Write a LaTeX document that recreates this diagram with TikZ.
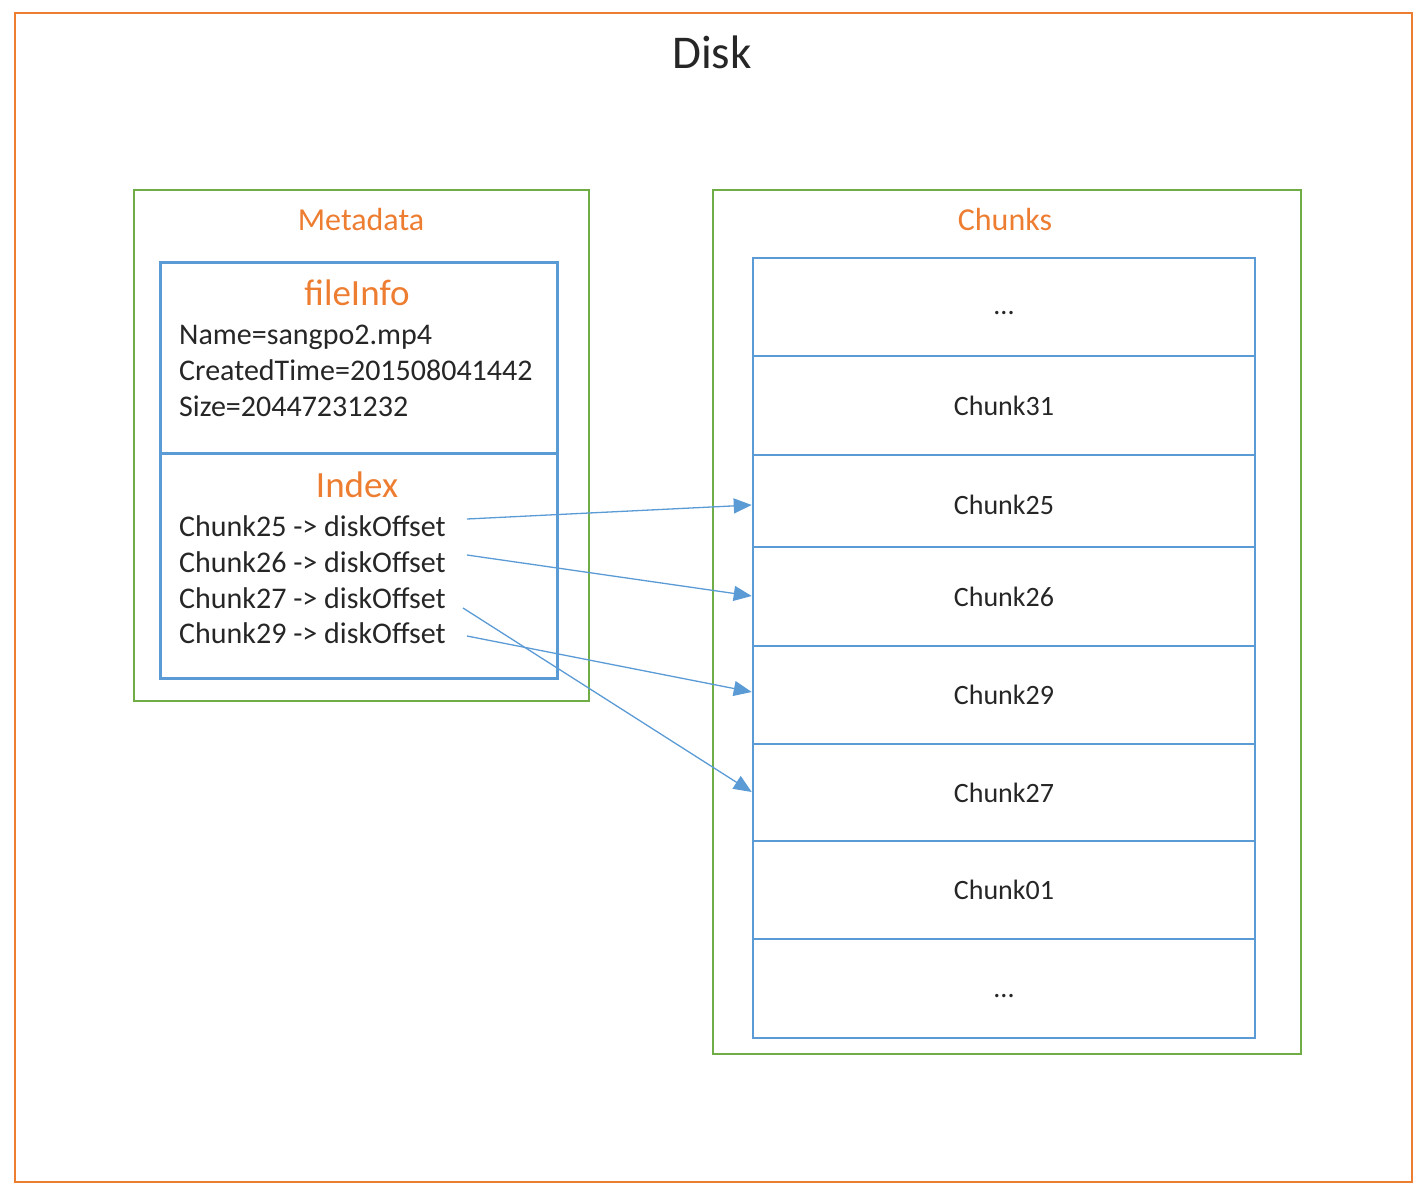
\documentclass[tikz,border=0pt]{standalone}
\usepackage{fontspec}
\setmainfont{Carlito}
\usetikzlibrary{arrows.meta}
\definecolor{orng}{HTML}{ED7D31}
\definecolor{grn}{HTML}{70AD47}
\definecolor{blu}{HTML}{5B9BD5}
\definecolor{txt}{HTML}{262626}
\begin{document}
\begin{tikzpicture}[x=1pt,y=-1pt,
  outerbox/.style={draw=orng,line width=2pt},
  groupbox/.style={draw=grn,line width=2pt},
  bluebox/.style={draw=blu,line width=2.5pt},
  cell/.style={draw=blu,line width=2.5pt,minimum width=502pt,inner sep=0pt,font=\fontsize{28}{34}\selectfont,text=txt},
  dots/.style={text height=14pt,text depth=0pt},
  grouplabel/.style={text=orng,font=\fontsize{32}{38}\selectfont,anchor=base,inner sep=0pt},
  sublabel/.style={text=orng,font=\fontsize{37}{44}\selectfont,anchor=base,inner sep=0pt},
  line/.style={text=txt,font=\fontsize{30}{36}\selectfont,anchor=base west,inner sep=0pt},
  link/.style={draw=blu,line width=1.3pt,-{Triangle[length=18pt,width=15pt]}}
]
\useasboundingbox (0,0) rectangle (1425,1197);
\node[outerbox,minimum width=1397pt,minimum height=1169pt,inner sep=0pt,anchor=north west] (disk) at (14,12) {};
\node[text=txt,font=\fontsize{47}{56}\selectfont,anchor=base,inner sep=0pt] (disklabel) at (712,68) {Disk};

% Metadata
\node[groupbox,minimum width=455pt,minimum height=511pt,inner sep=0pt,anchor=north west] (meta) at (133,189) {};
\node[grouplabel] (metalabel) at (361,230) {Metadata};
\node[bluebox,minimum width=397pt,minimum height=191pt,inner sep=0pt,anchor=north west] (fileinfo) at (159,261) {};
\node[bluebox,minimum width=397pt,minimum height=225pt,inner sep=0pt,anchor=north west] (index) at (159,452) {};
\node[sublabel] (filelabel) at (357,305) {fileInfo};
\node[line] (n1) at (179,344) {Name=sangpo2.mp4};
\node[line] (n2) at (179,380) {CreatedTime=201508041442};
\node[line] (n3) at (179,416) {Size=20447231232};
\node[sublabel] (indexlabel) at (357,497) {Index};
\node[line] (l25) at (179,536) {Chunk25 -> diskOffset};
\node[line] (l26) at (179,572) {Chunk26 -> diskOffset};
\node[line] (l27) at (179,608) {Chunk27 -> diskOffset};
\node[line] (l29) at (179,643) {Chunk29 -> diskOffset};

% Chunks
\node[groupbox,minimum width=588pt,minimum height=864pt,inner sep=0pt,anchor=north west] (chunks) at (712,189) {};
\node[grouplabel] (chunkslabel) at (1005,230) {Chunks};
\node[cell,dots,minimum height=98pt] (ctop) at (1004,307) {...};
\node[cell,minimum height=99pt] (c31) at (1004,405.5) {Chunk31};
\node[cell,minimum height=92pt,text height=28pt] (c25) at (1004,501) {Chunk25};
\node[cell,minimum height=99pt] (c26) at (1004,596.5) {Chunk26};
\node[cell,minimum height=98pt] (c29) at (1004,695) {Chunk29};
\node[cell,minimum height=97pt] (c27) at (1004,792.5) {Chunk27};
\node[cell,minimum height=98pt] (c01) at (1004,890) {Chunk01};
\node[cell,dots,text height=17pt,minimum height=99pt] (cbot) at (1004,988.5) {...};

% links
\coordinate (s25) at (467,519);
\coordinate (s26) at (467,555);
\coordinate (s27) at (463,608);
\coordinate (s29) at (467,636);
\draw[link] (s25) -- (c25.west |- 0,505);
\draw[link] (s26) -- (c26.west |- 0,596);
\draw[link] (s27) -- (c27.west |- 0,792);
\draw[link] (s29) -- (c29.west |- 0,692);
\end{tikzpicture}
\end{document}
